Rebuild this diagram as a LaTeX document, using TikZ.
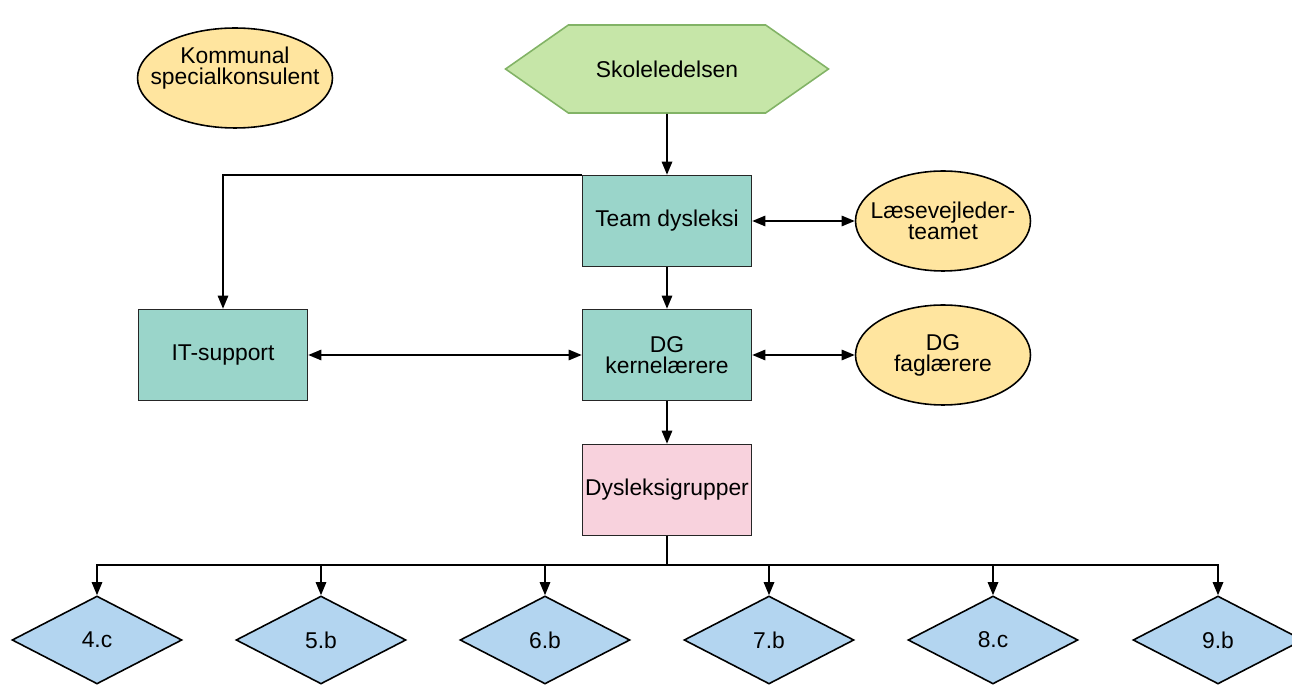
\documentclass[tikz,border=0pt]{standalone}
\usepackage{fontspec}
\setmainfont{Liberation Sans}
\usetikzlibrary{arrows.meta,shapes.geometric,shapes.symbols}
\definecolor{hexfill}{HTML}{C6E6A8}
\definecolor{hexline}{HTML}{82B366}
\definecolor{teamfill}{HTML}{9AD5CA}
\definecolor{ovalfill}{HTML}{FFE59F}
\definecolor{grpfill}{HTML}{F8D2DD}
\definecolor{klassefill}{HTML}{B3D5F0}
\tikzset{
	boks/.style={draw=black!85, line width=0.9pt, fill=teamfill, minimum width=3.38cm, minimum height=1.82cm, inner sep=0pt, align=center},
	oval/.style={ellipse, draw=black, line width=0.9pt, fill=ovalfill, minimum width=3.5cm, minimum height=2cm, inner sep=0pt, inner xsep=-0.4cm, align=center},
	klasse/.style={diamond, aspect=1.93, draw=black, line width=0.9pt, fill=klassefill, minimum width=3.4cm, minimum height=1.76cm, inner sep=0pt},
	pil/.style={line width=0.9pt, -{Triangle[length=7.5pt,width=6pt]}},
	dobbelpil/.style={line width=0.9pt, {Triangle[length=7.5pt,width=6pt]}-{Triangle[length=7.5pt,width=6pt]}}
}
\begin{document}
\begin{tikzpicture}[x=0.02cm, y=-0.02cm, font=\fontsize{13}{12}\selectfont]
		%%%%% START %%%%%
		\useasboundingbox (0, 0) rectangle (1292, 685);
		
		\node[oval, minimum width=3.9cm] (kommunal) at (235, 78) {Kommunal\\specialkonsulent\\[2pt]~};
		
		\node[signal, signal to=west and east, signal pointer angle=70, draw=hexline, line width=0.9pt, fill=hexfill, minimum width=6.46cm, minimum height=1.76cm, inner sep=0pt] (ledelse) at (667, 69) {Skoleledelsen};
		
		\node[boks] (team) at (667, 221) {Team dysleksi};
		\node[oval] (laese) at (943, 221) {Læsevejleder-\\teamet};
		
		\node[boks] (it) at (223, 355) {IT-support};
		\node[boks] (kerne) at (667, 355) {DG\\kernelærere};
		\node[oval] (fag) at (943, 355) {DG\\faglærere};
		
		\node[boks, fill=grpfill] (grupper) at (667, 490) {Dysleksigrupper};
		
		\node[klasse] (k1) at (97, 640) {4.c};
		\node[klasse] (k2) at (321, 640) {5.b};
		\node[klasse] (k3) at (545, 640) {6.b};
		\node[klasse] (k4) at (769, 640) {7.b};
		\node[klasse] (k5) at (993, 640) {8.c};
		\node[klasse] (k6) at (1218, 640) {9.b};
		
		\draw[pil] (ledelse) -- (team);
		\draw[pil] (team) -- (kerne);
		\draw[pil] (kerne) -- (grupper);
		\draw[pil] (team.north west) -| (it.north);
		\draw[dobbelpil] (team) -- (laese);
		\draw[dobbelpil] (kerne) -- (fag);
		\draw[dobbelpil] (it) -- (kerne);
		
		\coordinate (fordel) at (667, 565);
		\draw[line width=0.9pt] (grupper) -- (fordel);
		\foreach \k in {1,...,6}
			\draw[pil] (fordel) -| (k\k.north);
		
		%%%%% END %%%%%
\end{tikzpicture}
\end{document}
